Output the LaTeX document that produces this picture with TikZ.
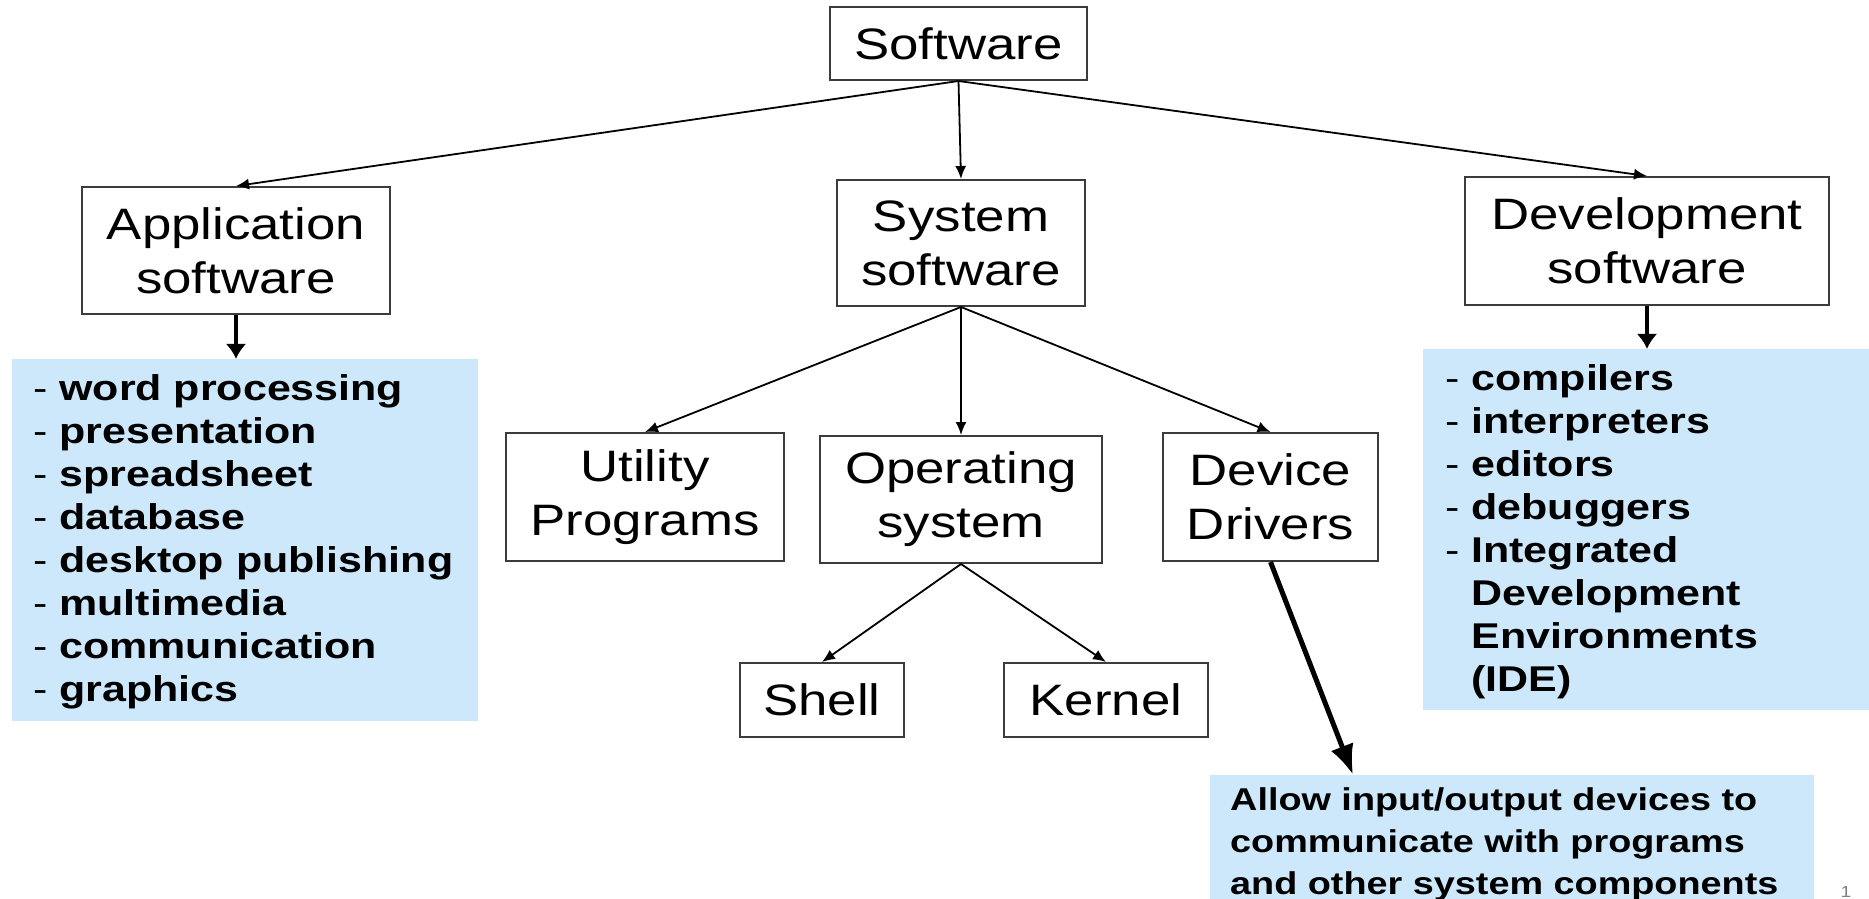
\documentclass[tikz,border=0pt]{standalone}
\usepackage{fontspec}
\setmainfont{Liberation Sans}[FakeStretch=1.2]
\usetikzlibrary{arrows.meta,calc}
\definecolor{lblue}{RGB}{204,232,250}
\definecolor{edgegray}{RGB}{60,60,60}
\newcommand\itemdash{{\mdseries -} }
\begin{document}
\begin{tikzpicture}[x=1pt,y=-1pt,
  box/.style={draw=edgegray, line width=2pt, fill=white, inner sep=0pt, align=center,
    font=\fontsize{44}{54}\selectfont},
  listbox/.style={fill=lblue, inner sep=0pt},
  listtext/.style={align=left, inner sep=0pt, anchor=north west,
    font=\fontsize{35.8}{43}\selectfont\bfseries},
  desctext/.style={align=left, inner sep=0pt, anchor=north west,
    font=\fontsize{31.5}{42}\selectfont\bfseries},
  thinarrow/.style={line width=1.8pt, -{Latex[length=13pt,width=11pt]}},
  thickarrow/.style={line width=4.5pt, -{Latex[length=15pt,width=21pt]}},
  bigarrow/.style={line width=5pt, -{Latex[length=30pt,width=24pt]}},
]
\fill[white] (0,0) rectangle (1869,898);
\useasboundingbox (0,0) rectangle (1869,898);

% blue boxes
\node[listbox, minimum width=466, minimum height=362] (applist) at (245,540) {};
\node[listtext] (apptext) at (33,374) {\itemdash word processing\\\itemdash presentation\\\itemdash spreadsheet\\\itemdash database\\\itemdash desktop publishing\\\itemdash multimedia\\\itemdash communication\\\itemdash graphics};

\node[listbox, minimum width=446, minimum height=361] (devlist) at (1646,529.5) {};
\node[listtext] (devtext) at (1445,364) {\itemdash compilers\\\itemdash interpreters\\\itemdash editors\\\itemdash debuggers\\\itemdash Integrated\\\phantom{\itemdash}Development\\\phantom{\itemdash}Environments\\\phantom{\itemdash}(IDE)};

\node[listbox, minimum width=604, minimum height=130] (drvlist) at (1512,840) {};
\node[desctext] (drvtext) at (1230,787) {Allow input/output devices to\\communicate with programs\\and other system components};

% boxes
\node[box, minimum width=257, minimum height=73] (sw) at (958.5,43.5) {Software};
\node[box, minimum width=308, minimum height=127] (app) at (236,250.5) {Application\\software};
\node[box, minimum width=248, minimum height=126] (sys) at (961,243) {System\\software};
\node[box, minimum width=364, minimum height=128] (dev) at (1647,241) {Development\\software};
\node[box, minimum width=278, minimum height=128] (util) at (645,497) {Utility\\Programs};
\node[box, minimum width=282, minimum height=127] (os) at (961,499.5) {Operating\\system};
\node[box, minimum width=215, minimum height=128] (drv) at (1270.5,497) {Device\\Drivers};
\node[box, minimum width=164, minimum height=74] (shell) at (822,700) {Shell};
\node[box, minimum width=204, minimum height=74] (kernel) at (1106,700) {Kernel};

% connectors
\draw[thinarrow] (sw.south) -- (app.north);
\draw[thinarrow] (sw.south) -- (sys.north);
\draw[thinarrow] (sw.south) -- (dev.north);
\draw[thinarrow] (sys.south) -- (util.north);
\draw[thinarrow] (sys.south) -- (os.north);
\draw[thinarrow] (sys.south) -- (drv.north);
\draw[thinarrow] (os.south) -- (shell.north);
\draw[thinarrow] (os.south) -- (kernel.north);
\draw[thickarrow] (app.south) -- (app.south |- applist.north);
\draw[thickarrow] (dev.south) -- (dev.south |- devlist.north);
\draw[bigarrow] (drv.south) -- ($(drvlist.north west)!0.237!(drvlist.north east)$);

% slide number fragment
\node[font=\fontsize{16}{16}\selectfont, text=gray, anchor=north, inner sep=0pt] (pagenum) at (1846,886) {1};
\end{tikzpicture}
\end{document}
